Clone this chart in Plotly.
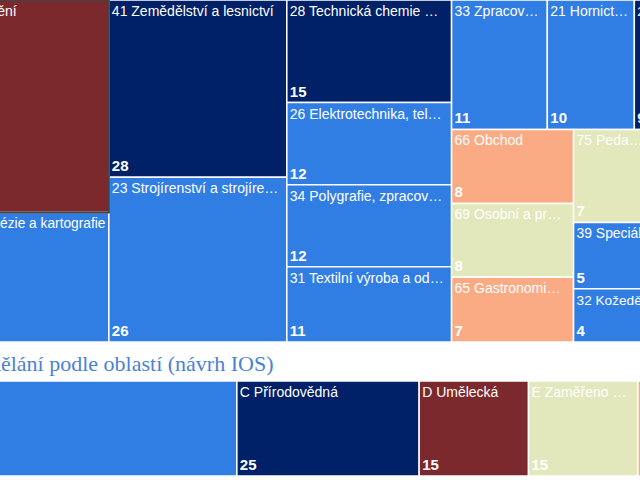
import plotly.graph_objects as go

# ---------------- data: top treemap (skupiny oborů) ----------------
BLUE = "#307ee4"
NAVY = "#002067"
RED = "#7b292d"
ORANGE = "#fbab84"
GREEN = "#e2e8bb"

group_names = [
    "82 Umění a užité umění",
    "36 Stavebnictví, geodézie a kartografie",
    "41 Zemědělství a lesnictví",
    "23 Strojírenství a strojírenská výroba",
    "28 Technická chemie a chemie silikátů",
    "26 Elektrotechnika, telekomunikační a výpočetní technika",
    "34 Polygrafie, zpracování papíru, filmu a fotografie",
    "31 Textilní výroba a oděvnictví",
    "33 Zpracování dřeva a výroba hudebních nástrojů",
    "21 Hornictví a hornická geologie, hutnictví a slévárenství",
    "29 Potravinářství a potravinářská chemie",
    "53 Zdravotnictví",
    "66 Obchod",
    "69 Osobní a provozní služby",
    "65 Gastronomie, hotelnictví a turismus",
    "75 Pedagogika, učitelství a sociální péče",
    "39 Speciální a interdisciplinární obory",
    "32 Kožedělná a obuvnická výroba a zpracování plastů",
    "37 Doprava a spoje",
    "63 Ekonomika a administrativa",
    "16 Ekologie a ochrana životního prostředí",
    "18 Informatické obory",
    "43 Veterinářství a veterinární prevence",
    "64 Podnikání v oborech, odvětví",
    "72 Publicistika, knihovnictví a informatika",
    "61 Filozofie, teologie",
    "78 Obecně odborná příprava",
    "68 Právo, právní a veřejnosprávní činnost",
]
group_shown = [
    "82 Umění a užité umění",
    "36 Stavebnictví, geodézie a kartografie",
    "41 Zemědělství a lesnictví",
    "23 Strojírenství a strojíre…",
    "28 Technická chemie …",
    "26 Elektrotechnika, tel…",
    "34 Polygrafie, zpracov…",
    "31 Textilní výroba a od…",
    "33 Zpracov…",
    "21 Hornict…",
    "29 Potrav…",
    "53 Zdravo…",
    "66 Obchod",
    "69 Osobní a pr…",
    "65 Gastronomi…",
    "75 Peda…",
    "39 Speciál…",
    "32 Kožedě…",
    "37 Dopr…",
    "63 Ekon…",
    "16 Ekol…",
    "18 Info…",
    "43 Vete…",
    "64 Podn…",
    "72 Publ…",
    "61 Filo…",
    "78 …",
    "68 …",
]
group_values = [46, 28, 28, 26, 15, 12, 12, 11, 11, 10, 9, 9, 8, 8, 7, 7, 5, 4,
                3, 3, 3, 3, 3, 3, 3, 2, 1, 1]
group_colors = [RED, BLUE, NAVY, BLUE, NAVY, BLUE, BLUE, BLUE, BLUE, BLUE, NAVY,
                GREEN, ORANGE, GREEN, ORANGE, GREEN, BLUE, BLUE,
                ORANGE, ORANGE, NAVY, BLUE, NAVY, ORANGE, GREEN, GREEN, GREEN, GREEN]

# ---------------- data: bottom treemap (oblasti, návrh IOS) ----------------
area_names = ["A Technická", "C Přírodovědná", "D Umělecká",
              "E Zaměřeno na člověka", "F Služby"]
area_shown = ["A Technická", "C Přírodovědná", "D Umělecká",
              "E Zaměřeno …", "F Služby"]
area_values = [51, 25, 15, 15, 21]
area_colors = [BLUE, NAVY, RED, GREEN, ORANGE]

title_bottom = "Počet oborů vzdělání podle oblastí (návrh IOS)"

# ---------------- figure ----------------
W, H = 926, 480
top_dom = [1 - 342 / H, 1.0]
bot_dom = [1 - 476 / H, 1 - 381 / H]

LABEL_FONT = dict(family="Liberation Sans, Arial, sans-serif", size=14, color="white")
VALUE_FONT = dict(family="Liberation Sans, Arial, sans-serif", size=15, color="white")


def add_pair(fig, names, shown, values, colors, dom, sort):
    n = len(names)
    common = dict(
        labels=names, parents=[""] * n, values=values,
        tiling=dict(packing="squarify", squarifyratio=1.618, pad=0),
        pathbar=dict(visible=False), sort=sort,
        domain=dict(x=[0, 1], y=dom),
        hoverinfo="skip",
    )
    fig.add_trace(go.Treemap(
        **common,
        text=shown, texttemplate="%{text}", textposition="top left",
        textfont=LABEL_FONT,
        marker=dict(colors=colors, line=dict(color="white", width=1.5),
                    pad=dict(t=0, l=0, r=0, b=0)),
    ))
    fig.add_trace(go.Treemap(
        **common,
        texttemplate="<b>%{value}</b>", textposition="bottom left",
        textfont=VALUE_FONT,
        marker=dict(colors=["rgba(0,0,0,0)"] * n, line=dict(width=0),
                    pad=dict(t=0, l=0, r=0, b=0)),
    ))


fig = go.Figure()
add_pair(fig, group_names, group_shown, group_values, group_colors, top_dom, True)
add_pair(fig, area_names, area_shown, area_values, area_colors, bot_dom, False)

fig.add_annotation(
    text=title_bottom, xref="paper", yref="paper",
    x=-9 / W, y=1 - 363 / H, xanchor="left", yanchor="middle", showarrow=False,
    font=dict(family="Liberation Serif, Georgia, serif", size=22, color="#4a82d4"),
)

fig.update_layout(
    width=W, height=H,
    margin=dict(l=0, r=0, t=0, b=0),
    paper_bgcolor="white", plot_bgcolor="white",
    showlegend=False,
)

post = (
    "var d=document.getElementById('{plot_id}');"
    "document.documentElement.style.overflow='hidden';"
    "document.body.style.margin='0';"
    "document.body.style.overflow='hidden';"
    "d.style.marginLeft='-135px';"
)
fig.write_html("out.html", post_script=post)
